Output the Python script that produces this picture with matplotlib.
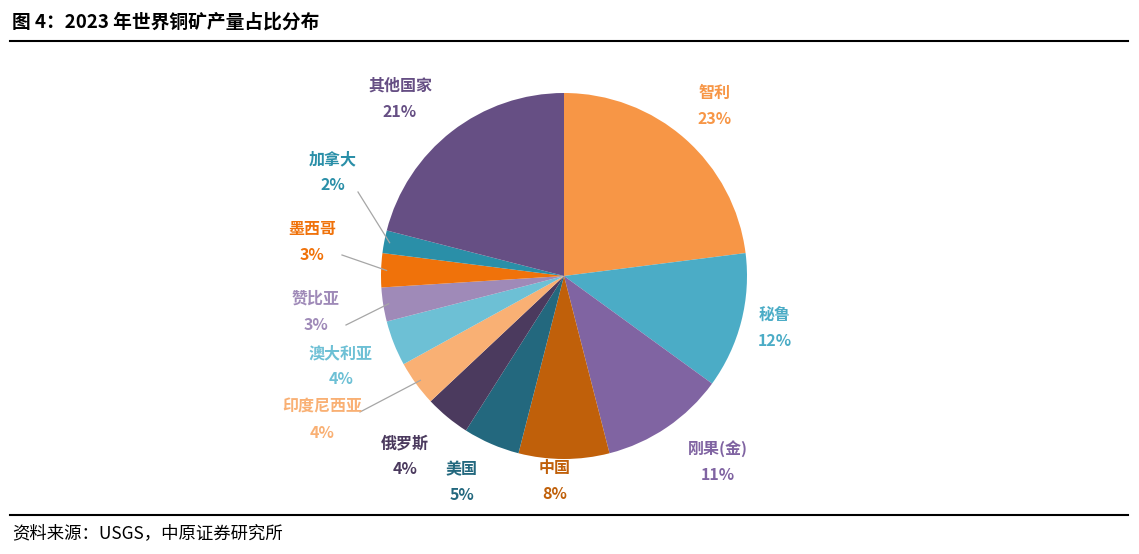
import matplotlib
matplotlib.use("Agg")
import matplotlib.pyplot as plt
import numpy as np

plt.rcParams['font.family'] = ['Noto Sans CJK SC', 'DejaVu Sans']

names = ['智利', '秘鲁', '刚果(金)', '中国', '美国', '俄罗斯', '印度尼西亚', '澳大利亚', '赞比亚', '墨西哥', '加拿大', '其他国家']
values = [23, 12, 11, 8, 5, 4, 4, 4, 3, 3, 2, 21]
colors = ['#F79646', '#4BACC6', '#8064A2', '#C0600A', '#23687E', '#4B3A5E',
          '#F9B074', '#6DC0D5', '#9F8AB8', '#F0720A', '#2A8FA8', '#664F84']
text_colors = colors
label_px = [(715, 106), (775, 328), (718, 462), (555, 481), (462, 482), (405, 456),
            (322, 420), (341, 366), (316, 312), (312, 242), (333, 172), (400, 99)]
leader = [False]*6 + [True, False, True, True, True, False]

W, H = 1139, 554
fig = plt.figure(figsize=(W/100, H/100), dpi=100)
ax = fig.add_axes([0, 0, 1, 1])

cx, cy, r = 564, H-276, 183
wedges, _ = ax.pie(values, colors=colors, startangle=90, counterclock=False,
                   center=(cx, cy), radius=r, frame=True,
                   wedgeprops=dict(edgecolor='none', linewidth=0))
ax.set_xlim(0, W); ax.set_ylim(0, H); ax.axis('off')
ax.set_aspect('equal')

for w, n, v, c, (px, py), ld in zip(wedges, names, values, text_colors, label_px, leader):
    ty = H - py
    ax.text(px, ty + 13, n, ha='center', va='center', color=c, fontsize=11.5, fontweight='bold')
    ax.text(px, ty - 13, f'{v}%', ha='center', va='center', color=c, fontsize=11.5, fontweight='bold')
    if ld:
        ang = np.deg2rad((w.theta1 + w.theta2) / 2)
        ex, ey = cx + r*0.97*np.cos(ang), cy + r*0.97*np.sin(ang)
        sx = px + 30 if n != '加拿大' else px + 25
        sy = ty - 13 if n != '加拿大' else ty - 20
        if n == '印度尼西亚':
            sx, sy = px + 38, ty + 8
        ax.plot([sx, ex], [sy, ey], color='#A6A6A6', lw=0.9)

fig.text(12/W, 1 - 22/H, '图 4：2023 年世界铜矿产量占比分布', fontsize=13.5, fontweight='bold', va='center')
ax.plot([10, 1128], [H-41, H-41], color='black', lw=1.5)
ax.plot([10, 1128], [H-515, H-515], color='black', lw=1.5)
fig.text(12/W, 1 - 533/H, '资料来源：USGS，中原证券研究所', fontsize=12.5, va='center')

fig.savefig('out.png', dpi=100)
